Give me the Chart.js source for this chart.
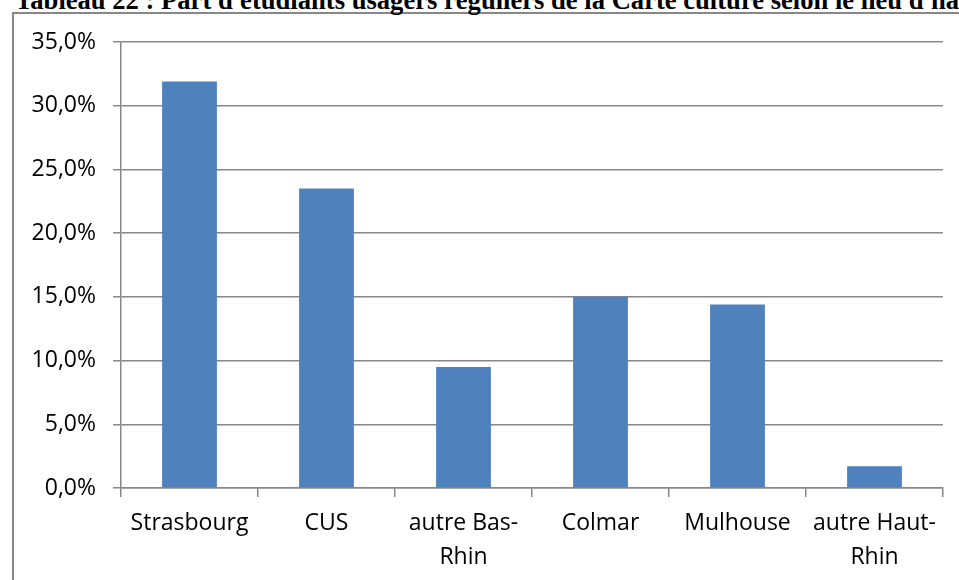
<!DOCTYPE html>
<html>
<head>
<meta charset="utf-8">
<script src="https://cdn.jsdelivr.net/npm/chart.js@4/dist/chart.umd.min.js"></script>
<style>
  html, body { margin: 0; padding: 0; background: #fff; overflow: hidden; }
  #wrap { position: relative; width: 959px; height: 580px; overflow: hidden; }
  #frame {
    position: absolute; left: 12px; top: 12px; width: 1000px; height: 1000px;
    border-left: 2px solid #878787; border-top: 2px solid #878787;
  }
  #title {
    position: absolute; left: 15px; top: -13px; white-space: nowrap;
    font-family: "Liberation Serif", "Times New Roman", serif;
    font-weight: bold; font-size: 26.6px; line-height: 26px; color: #000;
  }
  #myChart { position: absolute; left: 0; top: 0; }
</style>
</head>
<body>
<div id="wrap">
  <div id="frame"></div>
  <div id="title">Tableau 22 : Part d'étudiants usagers réguliers de la Carte culture selon le lieu d'habitation</div>
  <canvas id="myChart" width="959" height="580"></canvas>
</div>
<script>
let categories = [
  "Strasbourg",
  "CUS",
  ["autre Bas-", "Rhin"],
  "Colmar",
  "Mulhouse",
  ["autre Haut-", "Rhin"],
];
let values = [31.9, 23.5, 9.5, 15.0, 14.4, 1.7];
let yTicks = [0, 5, 10, 15, 20, 25, 30, 35];

let axisColor = "#878787";
let labelFont = { family: "'Open Sans', 'Noto Sans', sans-serif", size: 23, lineHeight: 1.48 };

let chart = document.getElementById("myChart");

let chartInstance = new Chart(chart, {
  type: "bar",
  data: {
    labels: categories,
    datasets: [
      {
        data: values,
        backgroundColor: "#4F81BD",
        borderWidth: 0,
        barPercentage: 0.4,
        categoryPercentage: 1.0,
      },
    ],
  },
  options: {
    responsive: false,
    devicePixelRatio: 1,
    animation: false,
    layout: {
      padding: { top: 42, right: 16, bottom: 0, left: 0 },
    },
    plugins: {
      legend: { display: false },
      tooltip: { enabled: false },
    },
    scales: {
      x: {
        offset: true,
        grid: {
          offset: true,
          drawOnChartArea: false,
          drawTicks: true,
          tickLength: 9,
          color: axisColor,
          lineWidth: 1.5,
        },
        border: { display: true, color: axisColor, width: 1.5 },
        ticks: {
          color: "#000",
          font: labelFont,
          padding: 9,
          autoSkip: false,
          maxRotation: 0,
          minRotation: 0,
        },
        afterFit: function (scale) {
          scale.height = 92;
        },
      },
      y: {
        min: 0,
        max: 35,
        grid: {
          color: axisColor,
          lineWidth: 1.5,
          drawTicks: true,
          tickLength: 8,
        },
        border: { display: true, color: axisColor, width: 1.5 },
        afterBuildTicks: function (scale) {
          scale.ticks = yTicks.map((v) => ({ value: v }));
        },
        ticks: {
          color: "#000",
          font: labelFont,
          padding: 17,
          callback: function (v) {
            return v.toFixed(1).replace(".", ",") + "%";
          },
        },
        afterFit: function (scale) {
          scale.width = 121;
        },
      },
    },
  },
});
</script>
</body>
</html>
